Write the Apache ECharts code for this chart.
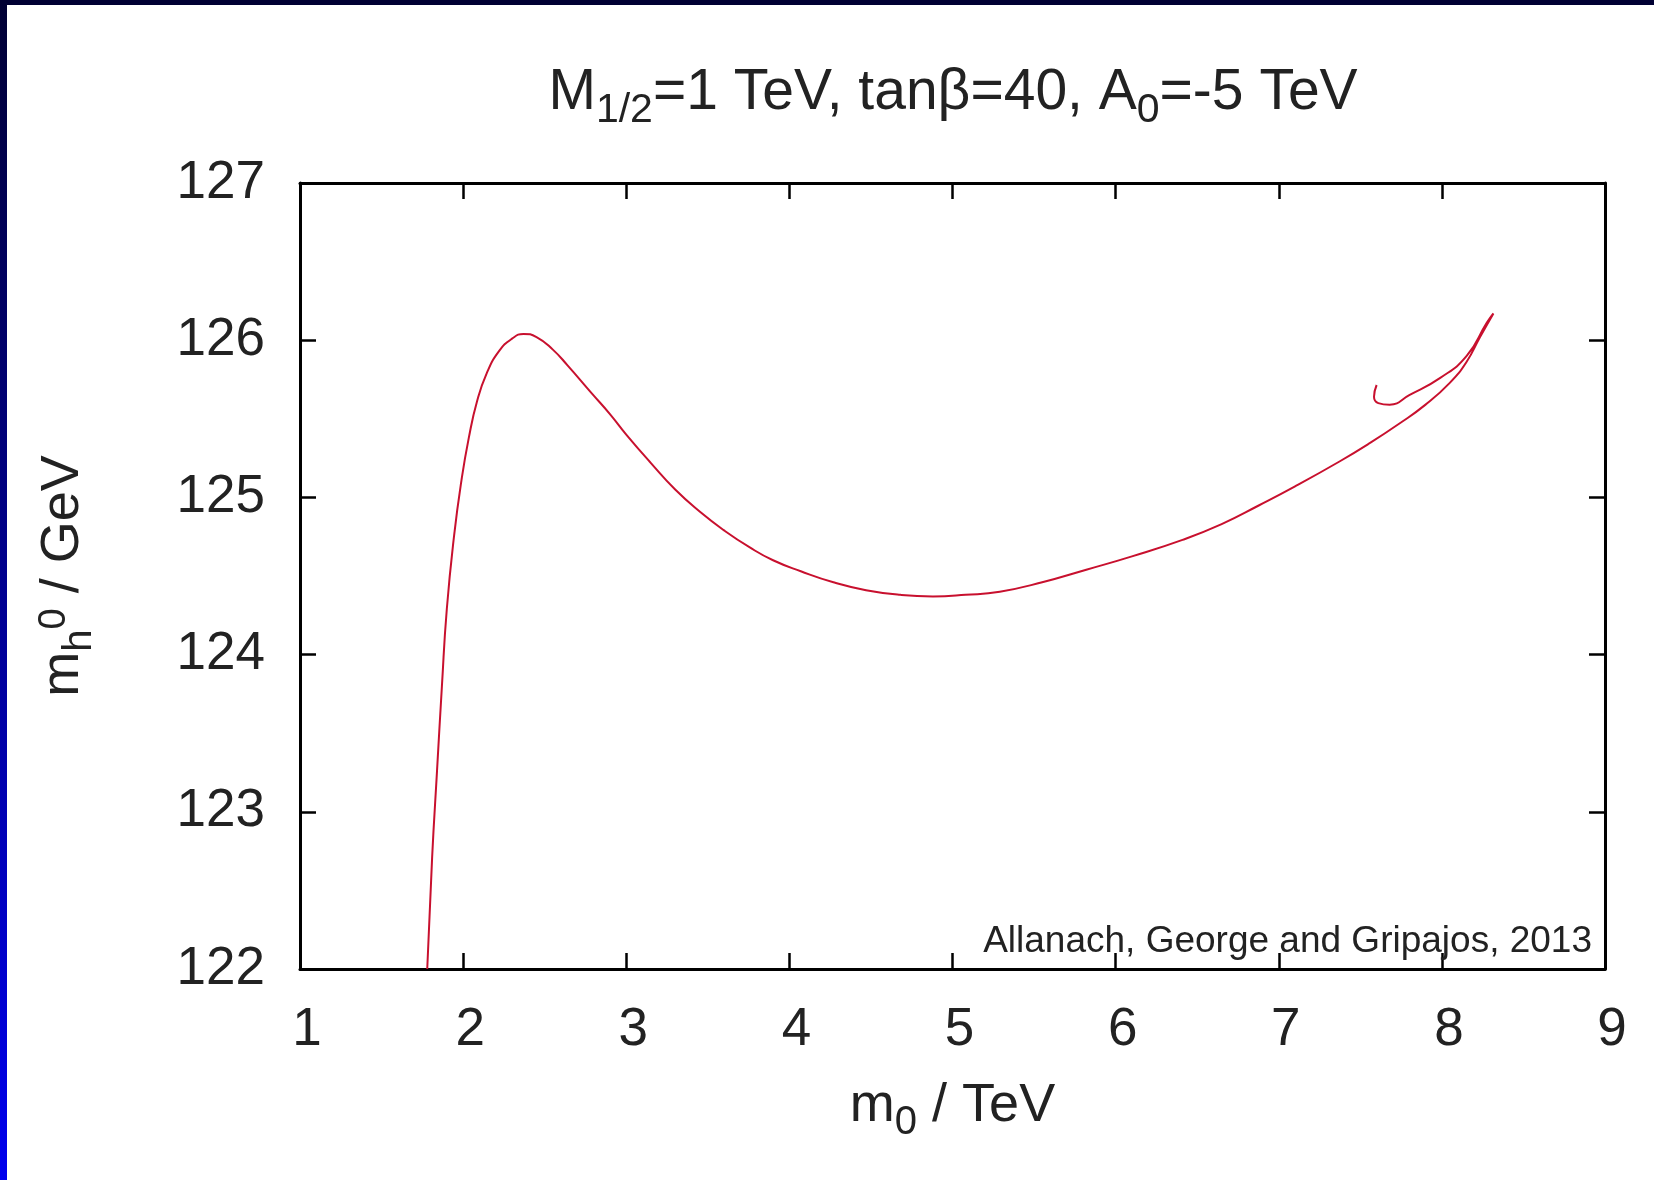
<!DOCTYPE html>
<html>
<head>
<meta charset="utf-8">
<script src="https://cdn.jsdelivr.net/npm/echarts@6/dist/echarts.min.js"></script>
<style>
html,body{margin:0;padding:0;background:#fff;}
#chart{width:1654px;height:1180px;}
</style>
</head>
<body>
<div id="chart"></div>
<script>
// m0 (TeV) along the curve, in drawing order
const m0Values = [1.78,1.81,1.84,1.87,1.90,1.945,1.99,2.035,2.085,2.145,2.22,2.30,2.37,2.45,2.55,2.64,2.79,2.90,3.0,3.15,3.3,3.45,3.6,3.76,3.9,4.07,4.27,4.47,4.68,4.88,5.08,5.29,5.55,5.82,6.1,6.41,6.65,6.88,7.1,7.375,7.55,7.74,7.9,8.05,8.15,8.234,8.316,8.275,8.152,7.99,7.80,7.68,7.61,7.584,7.60];
// m_h0 (GeV) along the curve
const mhValues = [122.0,122.71,123.26,123.8,124.29,124.76,125.11,125.38,125.61,125.79,125.93,126.01,126.04,126.02,125.94,125.84,125.66,125.53,125.40,125.22,125.05,124.91,124.79,124.68,124.60,124.53,124.46,124.41,124.38,124.37,124.38,124.40,124.46,124.54,124.625,124.73,124.83,124.95,125.07,125.23,125.34,125.47,125.59,125.73,125.86,126.02,126.17,126.11,125.90,125.76,125.65,125.59,125.60,125.64,125.715];
const xRange = [1, 9];
const yRange = [122, 127];
const titleParts = ['M', '1/2', '=1 TeV, tanβ=40, A', '0', '=-5 TeV'];
const xName = ['m', '0', ' / TeV'];
const yName = ['m', 'h', '0', ' / GeV'];
const credit = 'Allanach, George and Gripajos, 2013';

const FONT = "'Liberation Sans', Arial, sans-serif";
const curve = m0Values.map((x, i) => [x, mhValues[i]]);

const chart = echarts.init(document.getElementById('chart'), null, {renderer: 'canvas'});

const axisLine = {show: true, lineStyle: {color: '#000', width: 3}};
const axisTick = {show: true, inside: true, length: 16, lineStyle: {color: '#000', width: 2.5}};
const mainRich = {
  m: {fontSize: 54, fontFamily: FONT, color: '#222', lineHeight: 64, padding: [0, 0, 9, 0]},
  sub: {fontSize: 40, fontFamily: FONT, color: '#222', lineHeight: 18, verticalAlign: 'bottom'},
  sup: {fontSize: 38, fontFamily: FONT, color: '#222', lineHeight: 18, verticalAlign: 'top'}
};

chart.setOption({
  backgroundColor: '#fff',
  animation: false,
  title: {
    text: `{m|${titleParts[0]}}{sub|${titleParts[1]}}{m|${titleParts[2]}}{sub|${titleParts[3]}}{m|${titleParts[4]}}`,
    left: 953, top: 67, padding: 0,
    textAlign: 'center',
    textStyle: {fontWeight: 'normal', rich: {
      m: {fontSize: 57, fontWeight: 'normal', fontFamily: FONT, color: '#222', lineHeight: 64, padding: [0, 0, 12, 0]},
      sub: {fontSize: 41, fontWeight: 'normal', fontFamily: FONT, color: '#222', lineHeight: 18, verticalAlign: 'bottom'}
    }}
  },
  grid: {left: 300, right: 49, top: 183, bottom: 211, containLabel: false},
  xAxis: [{
    type: 'value', min: xRange[0], max: xRange[1], interval: 1, position: 'bottom',
    axisLine, axisTick, splitLine: {show: false},
    axisLabel: {fontSize: 53, fontFamily: FONT, color: '#222', margin: 35, padding: [0, 0, 0, 14]},
    name: `{m|${xName[0]}}{sub|${xName[1]}}{m|${xName[2]}}`,
    nameLocation: 'middle', nameGap: 110,
    nameTextStyle: {rich: mainRich}
  }, {
    type: 'value', min: xRange[0], max: xRange[1], interval: 1, position: 'top',
    axisLine, axisTick, splitLine: {show: false}, axisLabel: {show: false}
  }],
  yAxis: [{
    type: 'value', min: yRange[0], max: yRange[1], interval: 1, position: 'left',
    axisLine, axisTick, splitLine: {show: false},
    axisLabel: {fontSize: 53, fontFamily: FONT, color: '#222', margin: 35},
    name: `{m|${yName[0]}}{sub|${yName[1]}}{sup|${yName[2]}}{m|${yName[3]}}`,
    nameLocation: 'middle', nameGap: 200, nameRotate: 90,
    nameTextStyle: {rich: mainRich}
  }, {
    type: 'value', min: yRange[0], max: yRange[1], interval: 1, position: 'right',
    axisLine, axisTick, splitLine: {show: false}, axisLabel: {show: false}
  }],
  series: [{
    type: 'line', xAxisIndex: 0, yAxisIndex: 0,
    data: curve, showSymbol: false, smooth: 0.5,
    lineStyle: {color: '#c8102e', width: 2}
  }],
  graphic: [
    {type: 'rect', left: 0, top: 0, z: 100, shape: {width: 1654, height: 5}, style: {fill: '#000033'}},
    {type: 'rect', left: 0, top: 0, z: 100, shape: {width: 7, height: 1180},
      style: {fill: new echarts.graphic.LinearGradient(0, 0, 0, 1, [
        {offset: 0, color: '#000033'}, {offset: 1, color: '#0000ee'}])}},
    {type: 'text', right: 1654 - 1592, top: 923, z: 50,
      style: {text: credit, font: `37px ${FONT}`, fill: '#222'}}
  ]
});
</script>
</body>
</html>
